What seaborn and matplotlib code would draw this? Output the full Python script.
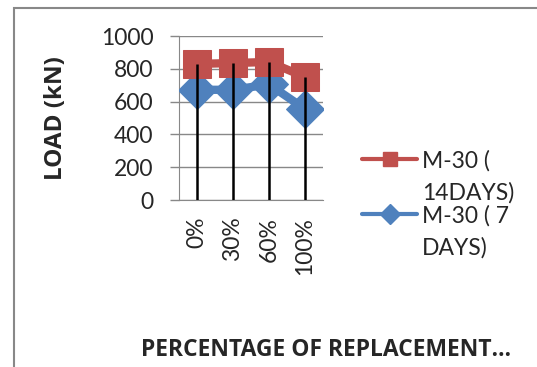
import matplotlib
matplotlib.use("Agg")
import matplotlib.pyplot as plt
import seaborn as sns
import pandas as pd
from matplotlib.lines import Line2D
from matplotlib.patches import Rectangle

categories = ["0%", "30%", "60%", "100%"]
load_14days = [830, 835, 842, 750]
load_7days = [672, 672, 705, 555]
yticks = [0, 200, 400, 600, 800, 1000]
label_14 = ["M-30 (", "14DAYS)"]
label_7 = ["M-30 ( 7", "DAYS)"]

sns.set_style("white")
plt.rcParams["font.family"] = ["Lato", "DejaVu Sans"]
BOLD = ["Open Sans", "DejaVu Sans"]

RED = "#C0504D"
BLUE = "#4F81BD"
FS = 16.5

fig = plt.figure(figsize=(5.37, 3.67), dpi=100)
ax = fig.add_axes([179 / 537, 1 - 200 / 367, 144 / 537, 164 / 367])

df = pd.DataFrame({"pos": range(len(categories)), "cat": categories,
                   "d14": load_14days, "d7": load_7days})

sns.lineplot(data=df, x="pos", y="d7", ax=ax, color=BLUE, linewidth=6,
             marker="D", markersize=19, markeredgecolor=BLUE, zorder=3)
sns.lineplot(data=df, x="pos", y="d14", ax=ax, color=RED, linewidth=6,
             marker="s", markersize=19.5, markeredgecolor=RED, zorder=3)

# drop lines from the highest point to the axis
tops = [max(a, b) for a, b in zip(load_14days, load_7days)]
ax.vlines(df["pos"], 0, tops, color="black", linewidth=1.8, zorder=5)

ax.set_xlim(-0.5, len(categories) - 0.5)
ax.set_ylim(0, 1000)
ax.set_yticks(yticks)
ax.set_xticks(range(len(categories)))
ax.set_xticklabels(categories, rotation=90, fontsize=FS)
ax.tick_params(axis="y", labelsize=FS, length=6.5, width=1, color="#888888",
               direction="out", left=True, pad=12)
ax.tick_params(axis="x", length=0, pad=12)
ax.grid(axis="y", color="#888888", linewidth=1)
ax.set_axisbelow(True)
for s in ["top", "right"]:
    ax.spines[s].set_visible(False)
ax.spines["left"].set_color("#888888")
ax.spines["bottom"].set_color("#888888")
ax.set_xlabel("")
ax.set_ylabel("LOAD (kN)", fontsize=17.5, fontweight="bold", family=BOLD)
ax.yaxis.set_label_coords((68 - 179) / 144, 0.5)

# legend (marker aligned with first text line, as in the original)
entries = [(label_14, RED, "s", 10, 159), (label_7, BLUE, "D", 10, 214)]
for lines, col, mk, ms, ypx in entries:
    yf = 1 - ypx / 367
    fig.add_artist(Line2D([362 / 537, 390 / 537, 417 / 537], [yf, yf, yf],
                          transform=fig.transFigure, color=col, linewidth=3,
                          marker=mk, markersize=ms, markevery=[1]))
    for i, line in enumerate(lines):
        fig.text(422 / 537, 1 - (ypx + 32 * i) / 367, line, ha="left",
                 va="center_baseline", fontsize=FS)

fig.text(326 / 537, 1 - 350 / 367, "PERCENTAGE OF REPLACEMENT…",
         ha="center", va="center", fontsize=16.5, fontweight="bold",
         family=BOLD)

fig.patches.append(Rectangle((13.5 / 537, -0.5), 2, 1.5 - 8 / 367,
                             transform=fig.transFigure, fill=False,
                             edgecolor="#888888", linewidth=1.5))

fig.savefig("out.png", dpi=100)
